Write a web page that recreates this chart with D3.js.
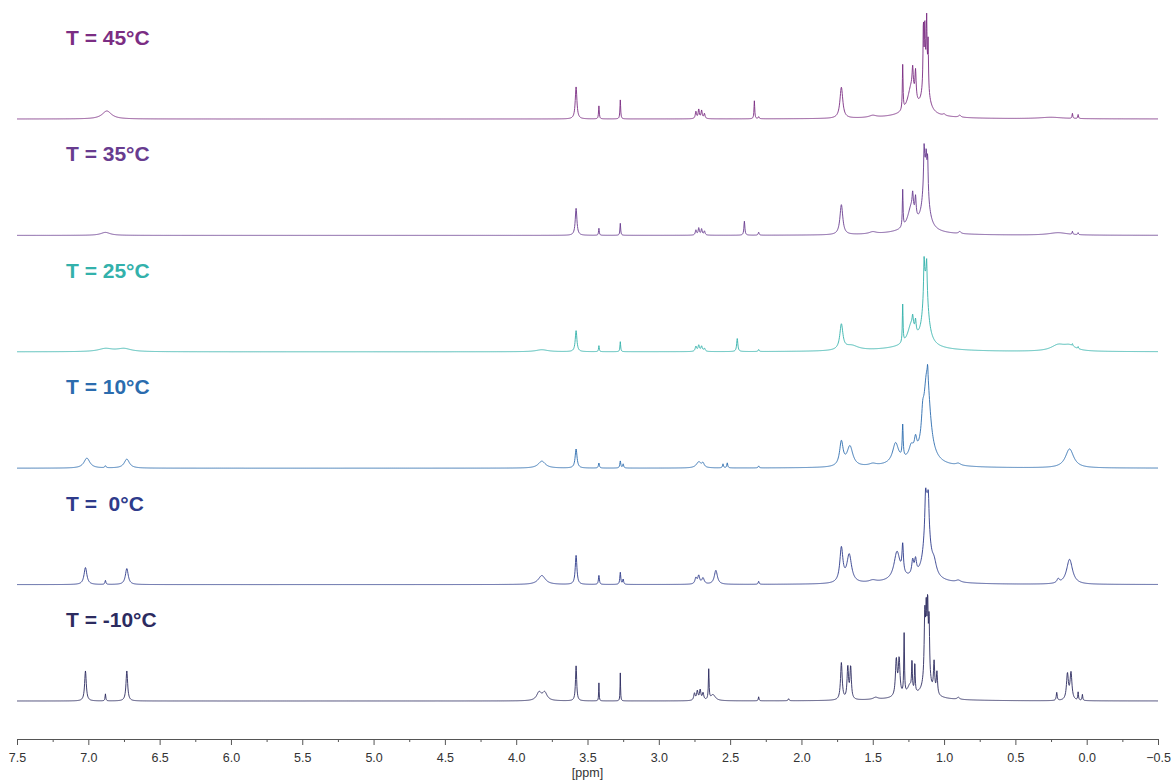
<!DOCTYPE html>
<html>
<head>
<meta charset="utf-8">
<script src="https://cdn.jsdelivr.net/npm/d3@7"></script>
<style>
  body { margin: 0; background: #fff; }
  svg { display: block; }
</style>
</head>
<body>
<div id="chart"></div>
<script>
const width = 1174;
const height = 782;

// temperatures, top to bottom
const temps = ["45", "35", "25", "10", "0", "-10"];
const labels = ["T = 45°C", "T = 35°C", "T = 25°C", "T = 10°C", "T =  0°C", "T = -10°C"];
const colors = ["#7b2d83", "#683c8f", "#33b1ab", "#2b6cae", "#2e3b8b", "#2c2b5f"];

// peak lists per trace: [ppm, height, half width (ppm)]
const peaks45 = [
  [6.87, 8, 0.04], [3.58, 32, 0.007], [3.42, 13, 0.003], [3.27, 19, 0.003],
  [2.74, 7, 0.005], [2.72, 9, 0.005], [2.70, 8, 0.005], [2.68, 5, 0.005],
  [2.33, 18, 0.003], [2.30, 2, 0.004], [1.72, 31, 0.012], [1.50, 2, 0.03],
  [1.29, 45, 0.003], [1.23, 26, 0.03], [1.22, 22, 0.005], [1.20, 28, 0.005],
  [1.13, 42, 0.022], [1.145, 60, 0.003], [1.135, 48, 0.003], [1.122, 56, 0.003], [1.112, 46, 0.003],
  [1.2, 4, 0.2], [1.0, 1.5, 0.01], [0.89, 2, 0.01], [0.25, 1.5, 0.1], [0.10, 5, 0.003], [0.06, 4, 0.003]
];
const peaks35 = [
  [6.88, 3, 0.04], [3.58, 27, 0.007], [3.42, 7, 0.003], [3.27, 12, 0.003],
  [2.74, 5, 0.005], [2.72, 7, 0.005], [2.70, 6, 0.005], [2.68, 4, 0.005],
  [2.40, 14, 0.004], [2.30, 3, 0.004], [1.72, 30, 0.012], [1.50, 2, 0.03],
  [1.29, 37, 0.003], [1.23, 22, 0.03], [1.22, 16, 0.005], [1.20, 19, 0.005],
  [1.13, 60, 0.022], [1.14, 34, 0.004], [1.125, 18, 0.004], [1.115, 32, 0.004],
  [1.2, 4, 0.2], [0.89, 2, 0.01], [0.2, 2.5, 0.08], [0.10, 3, 0.003], [0.06, 2, 0.003]
];
const peaks25 = [
  [6.88, 3, 0.06], [6.75, 3, 0.06], [3.82, 2, 0.05], [3.58, 21, 0.007], [3.42, 6, 0.003], [3.27, 10, 0.003],
  [2.74, 5, 0.006], [2.72, 6, 0.006], [2.70, 5, 0.006], [2.68, 3, 0.006],
  [2.45, 13, 0.005], [2.30, 2, 0.004], [1.72, 25, 0.013], [1.65, 5, 0.06],
  [1.29, 38, 0.003], [1.23, 20, 0.03], [1.22, 10, 0.005], [1.20, 12, 0.005],
  [1.13, 64, 0.022], [1.14, 34, 0.004], [1.122, 29, 0.004],
  [1.2, 5, 0.22], [0.2, 6, 0.06], [0.12, 5, 0.05], [0.10, 2, 0.003], [0.06, 2, 0.003]
];
const peaks10 = [
  [7.01, 10, 0.025], [6.88, 2, 0.005], [6.73, 9, 0.022], [3.82, 7, 0.03], [3.58, 19, 0.008], [3.42, 5, 0.004], [3.27, 7, 0.004], [3.25, 4, 0.004],
  [2.72, 6, 0.02], [2.69, 4, 0.01], [2.55, 4, 0.004], [2.52, 5, 0.004], [2.30, 2, 0.004],
  [1.72, 24, 0.015], [1.66, 20, 0.025], [1.50, 2, 0.03],
  [1.34, 20, 0.025], [1.29, 32, 0.004], [1.23, 12, 0.02], [1.20, 14, 0.01],
  [1.12, 88, 0.028], [1.15, 20, 0.01], [1.115, 12, 0.003],
  [1.2, 5, 0.2], [0.9, 2, 0.02], [0.12, 19, 0.035]
];
const peaks0 = [
  [7.02, 17, 0.012], [6.88, 4, 0.004], [6.73, 16, 0.012], [3.82, 9, 0.03], [3.58, 29, 0.007], [3.42, 9, 0.004], [3.27, 12, 0.004], [3.25, 5, 0.004],
  [2.74, 6, 0.008], [2.72, 8, 0.008], [2.69, 6, 0.01], [2.60, 14, 0.013], [2.30, 3, 0.004],
  [1.72, 34, 0.013], [1.665, 28, 0.02], [1.50, 2, 0.03],
  [1.33, 28, 0.025], [1.29, 28, 0.006], [1.22, 14, 0.008], [1.20, 14, 0.008],
  [1.12, 76, 0.022], [1.13, 25, 0.005], [1.11, 22, 0.005], [1.07, 12, 0.02],
  [1.2, 5, 0.2], [0.9, 2, 0.02], [0.2, 4, 0.01], [0.12, 25, 0.025]
];
const peaksM10 = [
  [7.02, 30, 0.007], [6.88, 7, 0.003], [6.73, 30, 0.007], [3.84, 8, 0.02], [3.80, 8, 0.02], [3.58, 35, 0.005], [3.42, 18, 0.002], [3.27, 28, 0.002],
  [2.75, 7, 0.006], [2.73, 9, 0.006], [2.71, 10, 0.006], [2.69, 7, 0.006], [2.65, 30, 0.003], [2.62, 6, 0.02], [2.30, 4, 0.003], [2.09, 2, 0.004],
  [1.72, 37, 0.007], [1.675, 32, 0.006], [1.655, 32, 0.006], [1.48, 2, 0.02],
  [1.335, 36, 0.007], [1.315, 36, 0.007], [1.28, 60, 0.003], [1.225, 30, 0.003], [1.205, 30, 0.003], [1.24, 10, 0.02],
  [1.135, 62, 0.005], [1.125, 55, 0.004], [1.115, 62, 0.004], [1.105, 55, 0.004], [1.12, 25, 0.025],
  [1.07, 30, 0.005], [1.05, 22, 0.005],
  [1.2, 4, 0.2], [0.9, 2, 0.01], [0.21, 8, 0.004], [0.135, 26, 0.008], [0.11, 27, 0.008], [0.06, 8, 0.003], [0.03, 6, 0.003]
];
const peakLists = [peaks45, peaks35, peaks25, peaks10, peaks0, peaksM10];

// axis ticks
const majorTicks = [7.5, 7.0, 6.5, 6.0, 5.5, 5.0, 4.5, 4.0, 3.5, 3.0, 2.5, 2.0, 1.5, 1.0, 0.5, 0.0, -0.5];
const minorTicks = [7.25, 6.75, 6.25, 5.75, 5.25, 4.75, 4.25, 3.75, 3.25, 2.75, 2.25, 1.75, 1.25, 0.75, 0.25, -0.25];

const svg = d3.select("#chart").append("svg")
  .attr("width", width)
  .attr("height", height)
  .style("font-family", "'Liberation Sans', Arial, sans-serif");

const x = d3.scaleLinear().domain([7.5, -0.5]).range([17, 1158]);
const baseY = d3.scalePoint().domain(temps).range([119, 701]);
const yAmp = d3.scaleLinear().domain([0, 100]).range([0, 100]);

// sum of lorentzians for one trace
function spectrum(list) {
  const pts = [];
  for (let i = 0; i <= 4000; i++) {
    const ppm = 7.5 - i * 0.002;
    let v = 0;
    list.forEach(([p, h, w]) => {
      const d = (ppm - p) / w;
      v += h / (1 + d * d);
    });
    pts.push([ppm, v]);
  }
  return pts;
}

temps.forEach((t, i) => {
  const b = baseY(t);
  const line = d3.line()
    .x(d => x(d[0]))
    .y(d => b - yAmp(d[1]));

  svg.append("path")
    .datum(spectrum(peakLists[i]))
    .attr("fill", "none")
    .attr("stroke", colors[i])
    .attr("stroke-width", 1)
    .attr("stroke-opacity", 0.9)
    .attr("d", line);

  svg.append("text")
    .attr("x", 66)
    .attr("y", b - 74)
    .attr("fill", colors[i])
    .style("font-size", "21px")
    .style("font-weight", "bold")
    .style("white-space", "pre")
    .text(labels[i]);
});

// x axis
const axisY = 739;
const gAxis = svg.append("g")
  .attr("transform", `translate(0,${axisY})`)
  .call(d3.axisBottom(x).tickValues(majorTicks).tickSize(6).tickFormat(d3.format(".1f")));

gAxis.select(".domain").attr("stroke", "#555");
gAxis.selectAll(".tick line").attr("stroke", "#555");
gAxis.selectAll(".tick text")
  .attr("fill", "#333")
  .attr("dy", "1.1em")
  .style("font-size", "12.5px")
  .style("font-family", "'Liberation Sans', Arial, sans-serif");

const gMinor = svg.append("g")
  .attr("transform", `translate(0,${axisY})`)
  .call(d3.axisBottom(x).tickValues(minorTicks).tickSize(3).tickFormat(""));
gMinor.select(".domain").remove();
gMinor.selectAll(".tick line").attr("stroke", "#555");

svg.append("text")
  .attr("x", x(3.5))
  .attr("y", 777)
  .attr("text-anchor", "middle")
  .attr("fill", "#333")
  .style("font-size", "12.5px")
  .text("[ppm]");
</script>
</body>
</html>
